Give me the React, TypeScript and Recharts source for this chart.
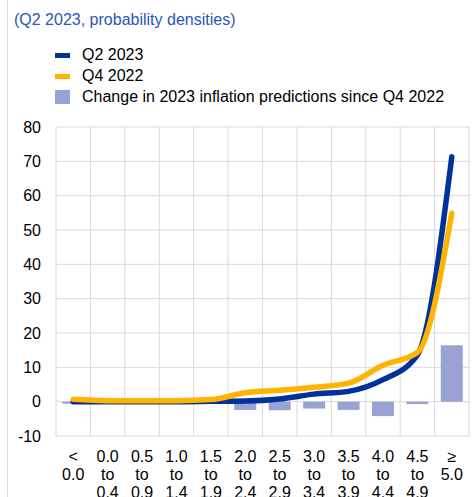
import { ComposedChart, Bar, Line, XAxis, YAxis, CartesianGrid } from 'recharts';

const categories = [
  '< 0.0',
  '0.0 to 0.4',
  '0.5 to 0.9',
  '1.0 to 1.4',
  '1.5 to 1.9',
  '2.0 to 2.4',
  '2.5 to 2.9',
  '3.0 to 3.4',
  '3.5 to 3.9',
  '4.0 to 4.4',
  '4.5 to 4.9',
  '≥ 5.0',
];
const q2_2023 = [0.0, 0.0, 0.0, 0.0, 0.1, 0.2, 0.8, 2.2, 3.0, 6.4, 13.6, 71.3];
const q4_2022 = [0.7, 0.3, 0.3, 0.3, 0.6, 2.6, 3.3, 4.2, 5.4, 10.6, 14.3, 54.9];
const changeSinceQ4 = [-0.6, -0.3, -0.3, -0.3, -0.5, -2.4, -2.5, -2.0, -2.4, -4.2, -0.7, 16.4];
const yTicks = [-10, 0, 10, 20, 30, 40, 50, 60, 70, 80];

const BLUE = '#003299';
const ORANGE = '#ffb400';
const LAVENDER = '#99a3d3';
const GRID = '#d9d9d9';
const FONT = '"Liberation Sans", Arial, sans-serif';

const data = categories.map((c, i) => ({
  cat: c,
  q2: q2_2023[i],
  q4: q4_2022[i],
  change: changeSinceQ4[i],
}));

const legendItems = [
  { label: 'Q2 2023', color: BLUE, kind: 'line' },
  { label: 'Q4 2022', color: ORANGE, kind: 'line' },
  { label: 'Change in 2023 inflation predictions since Q4 2022', color: LAVENDER, kind: 'box' },
];

function CategoryTick(props: any) {
  const { x, y, payload } = props;
  const lines = String(payload.value).split(' ');
  return (
    <text x={x} y={y} textAnchor="middle" fill="#000" fontSize={16} fontFamily={FONT}>
      {lines.map((l, i) => (
        <tspan key={i} x={x} dy={i === 0 ? 19.5 : 18}>
          {l}
        </tspan>
      ))}
    </text>
  );
}

export default function App() {
  return (
    <div
      style={{
        position: 'absolute',
        left: 0,
        top: 0,
        width: 473,
        height: 497,
        background: '#fff',
        fontFamily: FONT,
        overflow: 'hidden',
      }}
    >
      <div style={{ position: 'absolute', left: 7, top: 0, width: 1, height: 497, background: GRID }} />
      <div style={{ position: 'absolute', left: 14, top: 10, fontSize: 16, color: '#2a56b4', lineHeight: '20px' }}>
        (Q2 2023, probability densities)
      </div>
      {legendItems.map((it, i) => (
        <div
          key={it.label}
          style={{
            position: 'absolute',
            left: 55,
            top: 45 + i * 21,
            height: 20,
            display: 'flex',
            alignItems: 'center',
            fontSize: 16,
            color: '#000',
            whiteSpace: 'nowrap',
          }}
        >
          <span
            style={{
              display: 'inline-block',
              width: 15,
              height: it.kind === 'line' ? 5 : 14,
              background: it.color,
              marginRight: 12,
            }}
          />
          {it.label}
        </div>
      ))}
      <ComposedChart
        width={473}
        height={497}
        data={data}
        margin={{ top: 127, right: 4, bottom: 0, left: 0 }}
        barCategoryGap="18%"
        style={{ position: 'absolute', left: 0, top: 0 }}
      >
        <CartesianGrid
          stroke={GRID}
          strokeWidth={1}
          verticalCoordinatesGenerator={({ offset }: any) =>
            categories.map((_, i) => offset.left + (i * offset.width) / categories.length).concat(offset.left + offset.width)
          }
        />
        <XAxis
          dataKey="cat"
          interval={0}
          height={61}
          axisLine={false}
          tickLine={false}
          tickSize={0}
          tickMargin={6}
          tick={<CategoryTick />}
        />
        <YAxis
          type="number"
          domain={[-10, 80]}
          ticks={yTicks}
          width={56}
          axisLine={false}
          tickLine={false}
          tickSize={0}
          tickMargin={15}
          tick={{ fill: '#000', fontSize: 16, fontFamily: FONT }}
        />
        <Bar dataKey="change" fill={LAVENDER} isAnimationActive={false} />
        <Line
          type="monotone"
          dataKey="q2"
          stroke={BLUE}
          strokeWidth={5.5}
          strokeLinecap="round"
          dot={false}
          activeDot={false}
          isAnimationActive={false}
        />
        <Line
          type="monotone"
          dataKey="q4"
          stroke={ORANGE}
          strokeWidth={5.5}
          strokeLinecap="round"
          dot={false}
          activeDot={false}
          isAnimationActive={false}
        />
      </ComposedChart>
    </div>
  );
}
